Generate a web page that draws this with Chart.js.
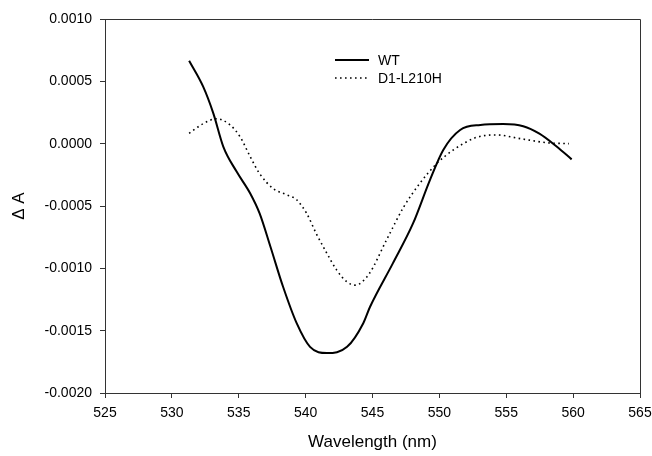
<!DOCTYPE html>
<html>
<head>
<meta charset="utf-8">
<script src="https://cdn.jsdelivr.net/npm/chart.js@4/dist/chart.umd.min.js"></script>
<style>
  html, body { margin: 0; padding: 0; background: #fff; }
  #wrap { width: 652px; height: 456px; }
</style>
</head>
<body>
<div id="wrap"><canvas id="spectrum"></canvas></div>
<script>
// difference spectra (nm, delta A)
const wtWavelength = [531.29, 532.34, 533.1, 533.85, 534.85, 535.86, 536.56, 537.37, 538.32, 539.33, 540.33, 541.59, 543.1, 544.31, 544.81, 546.52, 548.03, 549.3, 550.29, 551.55, 553.06, 554.77, 556.27, 557.48, 558.79, 559.89];
const wtDeltaA = [0.000665, 0.000457, 0.000243, -0.000025, -0.000226, -0.0004, -0.00056, -0.000827, -0.00115, -0.00144, -0.00163, -0.00168, -0.00163, -0.00144, -0.00131, -0.00096, -0.00064, -0.00029, -0.00005, 0.00011, 0.00015, 0.000157, 0.00014, 0.00008, -0.000025, -0.000126];

const mutWavelength = [531.29, 532.34, 533.35, 534.35, 535.1, 535.86, 536.56, 537.57, 538.58, 539.33, 540.08, 540.79, 541.59, 542.3, 543.1, 543.7, 544.71, 546.06, 547.32, 548.53, 549.8, 551.05, 552.76, 554.26, 556.07, 558.08, 559.69];
const mutDeltaA = [0.000083, 0.00016, 0.0002, 0.00015, 0.000055, -0.000105, -0.00024, -0.00036, -0.00041, -0.00045, -0.00056, -0.00072, -0.00088, -0.00101, -0.00111, -0.001135, -0.00105, -0.00077, -0.00051, -0.00032, -0.00016, -0.00005, 0.00005, 0.00007, 0.00004, 0.000007, 0.0];

const seriesLabels = ['WT', 'D1-L210H'];

const xTicks = [525, 530, 535, 540, 545, 550, 555, 560, 565];
const yTicks = [-0.0020, -0.0015, -0.0010, -0.0005, 0.0000, 0.0005, 0.0010];

const FONT = 'Arial, "Liberation Sans", sans-serif';
const AXIS_COLOR = '#333';

function toPoints(xs, ys) {
    return xs.map((x, i) => ({ x: x, y: ys[i] }));
}

// legend drawn inside the plot, like the original figure
const innerLegend = {
    id: 'innerLegend',
    afterDraw(chart, args, opts) {
        const ctx = chart.ctx;
        ctx.save();
        ctx.font = '14px ' + FONT;
        ctx.fillStyle = '#000';
        ctx.textBaseline = 'middle';
        chart.data.datasets.forEach((ds, i) => {
            const y = opts.y + i * opts.rowGap;
            ctx.beginPath();
            ctx.strokeStyle = ds.borderColor;
            ctx.lineWidth = ds.borderWidth;
            ctx.setLineDash(ds.borderDash || []);
            ctx.moveTo(opts.x, y);
            ctx.lineTo(opts.x + opts.lineLen, y);
            ctx.stroke();
            ctx.fillText(ds.label, opts.x + opts.lineLen + 9, y + 1);
        });
        ctx.restore();
    }
};

// top and right edges of the plot box (no ticks there)
const plotFrame = {
    id: 'plotFrame',
    beforeDatasetsDraw(chart) {
        const { ctx, chartArea: a } = chart;
        ctx.save();
        ctx.strokeStyle = AXIS_COLOR;
        ctx.lineWidth = 1;
        ctx.beginPath();
        ctx.moveTo(a.left, Math.round(a.top) + 0.5);
        ctx.lineTo(Math.round(a.right) + 0.5, Math.round(a.top) + 0.5);
        ctx.lineTo(Math.round(a.right) + 0.5, a.bottom);
        ctx.stroke();
        ctx.restore();
    }
};

new Chart(document.getElementById('spectrum').getContext('2d'), {
    type: 'line',
    data: {
        datasets: [
            {
                label: seriesLabels[0],
                data: toPoints(wtWavelength, wtDeltaA),
                borderColor: '#000',
                borderWidth: 2,
                pointRadius: 0,
                cubicInterpolationMode: 'monotone',
                fill: false,
            },
            {
                label: seriesLabels[1],
                data: toPoints(mutWavelength, mutDeltaA),
                borderColor: '#000',
                borderWidth: 1.6,
                borderDash: [1.6, 3.4],
                pointRadius: 0,
                cubicInterpolationMode: 'monotone',
                fill: false,
            },
        ]
    },
    options: {
        responsive: true,
        maintainAspectRatio: false,
        animation: false,
        layout: { padding: { top: 19, right: 12, left: 0, bottom: 0 } },
        scales: {
            x: {
                type: 'linear',
                min: 525,
                max: 565,
                afterBuildTicks: s => { s.ticks = xTicks.map(v => ({ value: v })); },
                // the last label is allowed to hang off the edge, as in the original
                afterFit: s => { s.height = 63; s.paddingRight = 0; s.paddingLeft = 0; },
                grid: { drawOnChartArea: false, drawTicks: true, tickLength: 5, tickColor: AXIS_COLOR },
                border: { color: AXIS_COLOR, width: 1 },
                ticks: { color: '#000', font: { family: FONT, size: 14 }, padding: 7, maxRotation: 0 },
                title: { display: true, text: 'Wavelength (nm)', color: '#000', font: { family: FONT, size: 17 }, padding: { top: 0, bottom: 3 } }
            },
            y: {
                min: -0.002,
                max: 0.001,
                afterBuildTicks: s => { s.ticks = yTicks.map(v => ({ value: v })); },
                afterFit: s => { s.width = 105; s.paddingTop = 0; s.paddingBottom = 0; },
                grid: { drawOnChartArea: false, drawTicks: true, tickLength: 5, tickColor: AXIS_COLOR },
                border: { color: AXIS_COLOR, width: 1 },
                ticks: { color: '#000', font: { family: FONT, size: 14 }, padding: 8, callback: v => v.toFixed(4) },
                title: { display: true, text: 'Δ A', color: '#000', font: { family: FONT, size: 17 }, padding: { top: 9, bottom: 0 } }
            }
        },
        plugins: {
            legend: { display: false },
            tooltip: { enabled: false },
            innerLegend: { x: 335, y: 60, rowGap: 18, lineLen: 34 }
        }
    },
    plugins: [plotFrame, innerLegend]
});
</script>
</body>
</html>
